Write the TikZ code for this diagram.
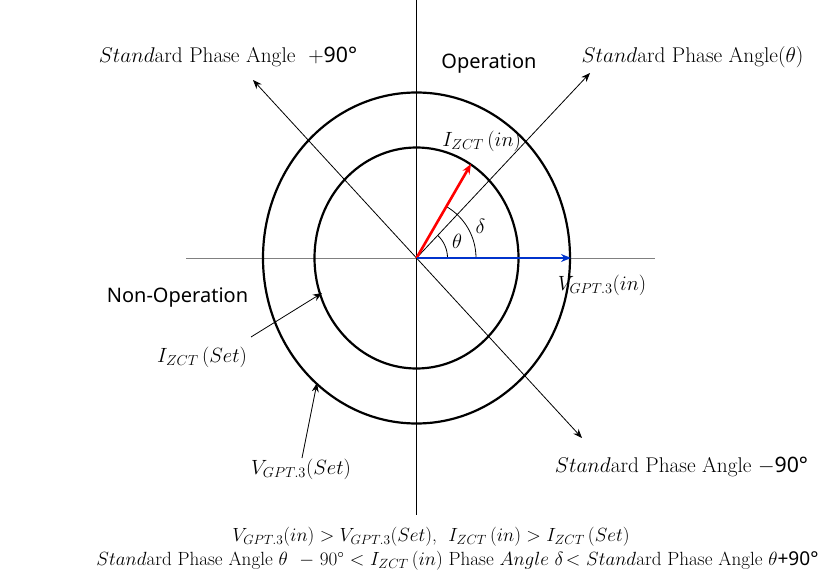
\RequirePackage{fix-cm}
\documentclass[tikz,border=0pt]{standalone}
\usepackage{fontspec}
\newfontfamily\sansf{Noto Sans}
\usetikzlibrary{arrows.meta,angles}
\begin{document}
\begin{tikzpicture}[x=1bp,y=-1bp,
  lbl/.style={inner sep=0pt,font=\fontsize{20.6bp}{24bp}\selectfont},
  big/.style={inner sep=0pt,font=\fontsize{21.3bp}{25bp}\selectfont},
  sns/.style={inner sep=0pt,font=\sansf\fontsize{20bp}{24bp}\selectfont},
  bot/.style={inner sep=0pt,font=\fontsize{19.1bp}{22bp}\selectfont},
  axis/.style={line width=0.9bp},
  ring/.style={line width=2.2bp},
  ptr/.style={line width=0.8bp,-{Stealth[length=9bp,width=7bp]}},
  vec/.style={line width=2.6bp,-{Stealth[length=10bp,width=8bp]}},
  ang/.style={draw,line width=0.8bp}]
\useasboundingbox (0,0) rectangle (833,587);
\definecolor{vblue}{RGB}{0,51,204}
\coordinate (O) at (416.5,258);
\coordinate (top) at (416.5,0);
\coordinate (bot) at (416.5,515);
\coordinate (left) at (186,258);
\coordinate (right) at (655,258);
\draw[axis,gray] (left) -- (right);
\draw[axis] (top) -- (bot);
\draw[ring] (O) ellipse [x radius=102bp, y radius=110.5bp];
\draw[ring] (O) ellipse [x radius=153.5bp, y radius=165.5bp];
\coordinate (tUL) at (253,80);
\coordinate (tLR) at (582,438);
\coordinate (tUR) at (590,73);
\draw[ptr] (O) -- (tUL);
\draw[ptr] (O) -- (tLR);
\draw[ptr] (O) -- (tUR);
\coordinate (Iin) at (471,164);
\coordinate (Vin) at (571,258);
\pic[ang, angle radius=31bp] {angle = Vin--O--tUR};
\pic[ang, angle radius=59.5bp] {angle = Vin--O--Iin};
\draw[vec,red] (O) -- (Iin);
\draw[vec,vblue] (O) -- (Vin);
\node[big] (lUL) at (228,57) {$Stand$ard Phase Angle\ \ $+${\sansf 90°}};
\node[sns] (lOp) at (489,64) {Operation};
\node[big] (lUR) at (692.5,57) {$Stand$ard Phase Angle$(\theta)$};
\node[sns] (lNon) at (177.5,298) {Non-Operation};
\node[lbl] (lIin) at (481.7,141.7) {$I_{ZCT}\,(in)$};
\node[lbl] (lth) at (457,241.5) {$\theta$};
\node[lbl] (ldel) at (480.5,226.5) {$\delta$};
\node[lbl] (lVin) at (602,285) {$V_{GPT.3}(in)$};
\node[lbl] (lIset) at (202,357) {$I_{ZCT}\,(Set)$};
\node[lbl] (lVset) at (301,469) {$V_{GPT.3}(Set)$};
\node[big] (lLR) at (681.5,467) {$Stand$ard Phase Angle $-${\sansf 90°}};
\node[bot] (b1) at (431,537) {$V_{GPT.3}(in) > V_{GPT.3}(Set)$,\ \ $I_{ZCT}\,(in) > I_{ZCT}\,(Set)$};
\node[bot] (b2) at (457.5,561) {$Stand$ard Phase Angle $\theta$\ \ $-$ 90° $<$ $I_{ZCT}\,(in)$ Phase $Angle\ \delta\!<$ $Stand$ard Phase Angle $\theta${\sansf +90°}};
\coordinate (aIs) at (251,337);
\coordinate (tIs) at (322,293);
\draw[ptr] (aIs) -- (tIs);
\coordinate (aVs) at (302,458);
\coordinate (tVs) at (317,383);
\draw[ptr] (aVs) -- (tVs);
\end{tikzpicture}
\end{document}
